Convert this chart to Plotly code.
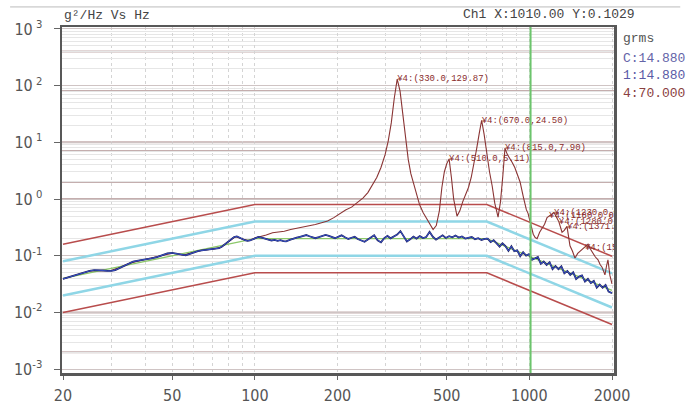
import plotly.graph_objects as go

# ---------------- data ----------------
# test profile breakpoints (Hz) and levels (g^2/Hz)
prof_f = [20, 100, 700, 2000]
ref_v = [0.04, 0.2, 0.2, 0.0245]
abort_hi = [0.16, 0.8, 0.8, 0.098]
abort_lo = [0.01, 0.05, 0.05, 0.006125]
alarm_hi = [0.08, 0.4, 0.4, 0.049]
alarm_lo = [0.02, 0.1, 0.1, 0.01225]

# channel 1 / control response
ch1_f = [20, 21, 22, 23, 24, 25, 26, 27, 28, 29, 30, 31, 32, 33, 34, 35, 36, 38, 40, 42, 44, 46, 48, 50,
         52, 54, 56, 58, 60, 62, 64, 66, 68, 70, 72, 74, 76, 78, 80, 82, 84, 86, 88, 90, 92, 94, 96, 98,
         100, 103, 106, 109, 112, 115, 118, 121, 124, 127, 130, 134, 138, 142, 146, 150, 154, 158, 162, 166,
         171, 176, 181, 186, 191, 196, 201, 207, 213, 219, 225, 231, 237, 244, 251, 258, 265, 272, 280, 288,
         296, 304, 312, 321, 330, 339, 348, 358, 368, 378, 388, 399, 410, 421, 433, 445, 457, 470, 483, 496,
         510, 524, 538, 553, 568, 584, 600, 617, 634, 651, 669, 687,
         705, 723, 741, 760, 779, 798, 818, 839, 860, 881, 903, 926, 949, 973, 997, 1022, 1048, 1074, 1101,
         1128, 1156, 1185, 1215, 1245, 1276, 1308, 1341, 1375, 1409, 1444, 1480, 1517, 1555, 1594, 1634,
         1675, 1717, 1760, 1804, 1849, 1895, 1943, 2000]
ch1_v = [0.039, 0.042, 0.045, 0.048, 0.052, 0.054, 0.056, 0.056, 0.055, 0.054, 0.054, 0.056, 0.060, 0.064,
         0.068, 0.074, 0.079, 0.083, 0.086, 0.090, 0.095, 0.102, 0.110, 0.112, 0.108, 0.103, 0.102, 0.108,
         0.116, 0.121, 0.124, 0.126, 0.127, 0.129, 0.131, 0.136, 0.146, 0.160, 0.176, 0.196, 0.214, 0.220,
         0.212, 0.198, 0.188, 0.183, 0.186, 0.194,
         0.203, 0.214, 0.208, 0.197, 0.192, 0.186, 0.190, 0.183, 0.188, 0.181, 0.179, 0.190, 0.201, 0.208,
         0.216, 0.224, 0.232, 0.221, 0.209, 0.204, 0.213, 0.222, 0.234, 0.224, 0.211, 0.204, 0.216, 0.229,
         0.212, 0.198, 0.208, 0.216, 0.197, 0.184, 0.176, 0.193, 0.215, 0.231, 0.188, 0.172, 0.205, 0.224,
         0.203, 0.219, 0.236, 0.272, 0.221, 0.178, 0.195, 0.218, 0.201, 0.222, 0.205, 0.214, 0.264, 0.216,
         0.193, 0.211, 0.229, 0.206, 0.221, 0.212, 0.228, 0.209, 0.219, 0.201, 0.207, 0.214, 0.196, 0.204,
         0.190, 0.199,
         0.201, 0.174, 0.189, 0.165, 0.145, 0.166, 0.148, 0.122, 0.147, 0.120, 0.125, 0.098, 0.116, 0.101,
         0.107, 0.085, 0.091, 0.095, 0.072, 0.079, 0.069, 0.077, 0.058, 0.066, 0.058, 0.065, 0.049, 0.054,
         0.046, 0.051, 0.039, 0.043, 0.045, 0.035, 0.039, 0.033, 0.036, 0.0275, 0.031, 0.0273, 0.0306,
         0.0234, 0.022]

# channel 4 response
ch4_f = [20, 25, 30, 35, 40, 45, 50, 55, 60, 65, 70, 75, 80, 85, 90, 95, 100, 105, 110, 116, 122, 128, 135,
         142, 150, 158, 166, 175, 184, 194, 204, 214, 225, 236, 248, 258, 268, 278, 288, 298, 306, 314, 322,
         330, 338, 346, 354, 362, 370, 378, 388, 398, 410, 422, 434, 446, 458, 470, 480, 490, 500, 510, 520,
         530, 545, 558, 572, 586, 600, 614, 628, 642, 656, 670, 684, 700, 716, 732, 748, 769, 785, 800, 815,
         830, 849, 866, 885, 905, 925, 950, 975, 989, 1010, 1033, 1050, 1067, 1090, 1113, 1136, 1160, 1180,
         1209, 1230, 1261, 1280, 1315, 1340, 1371, 1390, 1406, 1436, 1466, 1500, 1529, 1560, 1594, 1615,
         1636, 1670, 1706, 1740, 1779, 1810, 1840, 1865, 1885, 1910, 1933, 1965, 2000]
ch4_v = [0.039, 0.054, 0.055, 0.074, 0.087, 0.099, 0.111, 0.103, 0.117, 0.126, 0.130, 0.140, 0.175, 0.218,
         0.197, 0.186, 0.205, 0.215, 0.232, 0.255, 0.262, 0.270, 0.290, 0.305, 0.322, 0.334, 0.355, 0.382,
         0.410, 0.470, 0.560, 0.640, 0.720, 0.860, 1.05, 1.3, 1.75, 2.4, 3.6, 6.0, 10.5, 22, 60, 129.87, 80,
         32, 12, 5.0, 2.8, 1.9, 1.2, 0.80, 0.58, 0.45, 0.36, 0.29, 0.34, 0.62, 1.6, 3.0, 4.2, 5.11, 2.4, 1.0,
         0.50, 0.62, 0.9, 1.25, 1.6, 2.4, 4.0, 7.5, 14, 24.5, 14, 6.0, 3.0, 1.7, 0.85, 0.48, 0.9, 2.5, 7.9,
         6.2, 5.3, 4.4, 3.6, 2.7, 2.0, 1.1, 0.65, 0.56, 0.36, 0.24, 0.21, 0.20, 0.26, 0.30, 0.36, 0.47, 0.50,
         0.56, 0.58, 0.46, 0.40, 0.26, 0.28, 0.33, 0.22, 0.15, 0.12, 0.091, 0.11, 0.12, 0.13, 0.14, 0.15,
         0.16, 0.13, 0.11, 0.095, 0.085, 0.070, 0.063, 0.052, 0.046, 0.066, 0.085, 0.045, 0.032]

# marked peaks on channel 4
peak_f = [330.0, 510.0, 670.0, 815.0, 1230.0, 1180.0, 1280.0, 1371.0, 1594.0]
peak_v = [129.87, 5.11, 24.50, 7.90, 0.58, 0.50, 0.40, 0.33, 0.14]

# rms summary
grms_names = ["C", "1", "4"]
grms_vals = [14.880, 14.880, 70.000]
grms_colors = ["#6464a8", "#5a5aa6", "#8a4040"]

cursor_x = 1010.00
cursor_y = 0.1029

x_ticks = [20, 50, 100, 200, 500, 1000, 2000]
y_ticks = [1e-3, 1e-2, 1e-1, 1e0, 1e1, 1e2, 1e3]
y_ticktext = ["10<sup>-3</sup>", "10<sup>-2</sup>", "10<sup>-1</sup>", "10<sup> 0</sup>",
              "10<sup> 1</sup>", "10<sup> 2</sup>", "10<sup> 3</sup>"]

# ---------------- styling helpers ----------------
x_minor = [30, 40, 60, 70, 80, 90, 300, 400, 600, 700, 800, 900]
y_minor = [k * 10.0 ** e for e in range(-3, 3) for k in range(2, 10)]
brown_grid = [400, 80, 10, 7, 2, 1, 0.01, 0.002]

mono = "Liberation Mono, DejaVu Sans Mono, monospace"
tickfont = dict(family="Liberation Sans Narrow, DejaVu Sans Condensed, Liberation Sans, sans-serif",
                size=16, color="#555555")

fig = go.Figure()

for yv in brown_grid:
    fig.add_shape(type="line", xref="paper", x0=0, x1=1, yref="y", y0=yv, y1=yv,
                  line=dict(color="#c4aeae", width=2), layer="below")

line_common = dict(mode="lines", showlegend=False, hoverinfo="skip")
fig.add_trace(go.Scatter(x=prof_f, y=abort_hi, line=dict(color="#b84c4c", width=1.5), **line_common))
fig.add_trace(go.Scatter(x=prof_f, y=abort_lo, line=dict(color="#b84c4c", width=1.5), **line_common))
fig.add_trace(go.Scatter(x=prof_f, y=alarm_hi, line=dict(color="#8fd6e6", width=2.5), **line_common))
fig.add_trace(go.Scatter(x=prof_f, y=alarm_lo, line=dict(color="#8fd6e6", width=2.5), **line_common))
fig.add_trace(go.Scatter(x=ch4_f, y=ch4_v, line=dict(color="#8a3434", width=1.1), **line_common))
fig.add_trace(go.Scatter(x=prof_f, y=ref_v, line=dict(color="#8cc86a", width=1.3), **line_common))
fig.add_trace(go.Scatter(x=ch1_f, y=ch1_v, line=dict(color="#23235e", width=1.8), **line_common))
fig.add_trace(go.Scatter(x=ch1_f, y=ch1_v, line=dict(color="#3550c8", width=1.0), **line_common))

fig.add_vline(x=cursor_x, line=dict(color="#6cc46c", width=2))

fig.add_trace(go.Scatter(
    x=peak_f, y=peak_v, mode="text",
    text=["¥4:(%.1f,%.2f)" % (f, v) for f, v in zip(peak_f, peak_v)],
    textposition="middle right",
    textfont=dict(family=mono, size=9, color="#8a2c2c"),
    cliponaxis=True, showlegend=False, hoverinfo="skip"))

# titles / header
fig.add_annotation(text="g²/Hz Vs Hz", xref="paper", yref="paper", x=0.0, y=1.005,
                   xanchor="left", yanchor="bottom", showarrow=False,
                   font=dict(family=mono, size=13, color="#444444"))
fig.add_annotation(text="Ch1 X:%.2f Y:%.4f" % (cursor_x, cursor_y), xref="paper", yref="paper",
                   x=0.723, y=1.008, xanchor="left", yanchor="bottom", showarrow=False,
                   font=dict(family=mono, size=13, color="#444444"))
fig.add_annotation(text="grms", xref="paper", yref="paper", x=1.012, y=0.967,
                   xanchor="left", yanchor="middle", showarrow=False,
                   font=dict(family=mono, size=13, color="#555555"))
for i, (n, v, c) in enumerate(zip(grms_names, grms_vals, grms_colors)):
    fig.add_annotation(text="%s:%.3f" % (n, v), xref="paper", yref="paper", x=1.012,
                       y=0.909 - i * 0.0505, xanchor="left", yanchor="middle", showarrow=False,
                       font=dict(family=mono, size=13, color=c))

# top thin border
fig.add_shape(type="line", xref="paper", yref="paper", x0=-0.094, x1=1.12, y0=1.058, y1=1.058,
              line=dict(color="#bbbbbb", width=1))

fig.update_xaxes(type="log", range=[1.2974, 3.3083], tickvals=x_ticks,
                 ticktext=[str(t) for t in x_ticks], tickfont=tickfont,
                 ticks="outside", ticklen=4, tickcolor="#666666",
                 showgrid=True, gridcolor="#d4d4d4", griddash="dot", gridwidth=1,
                 minor=dict(tickvals=x_minor, showgrid=True, gridcolor="#d4d4d4",
                            griddash="dot", gridwidth=1, ticks=""),
                 showline=True, mirror=True, linecolor="#585858", linewidth=2.5,
                 zeroline=False, ticklabelstandoff=2)
fig.update_yaxes(type="log", range=[-3.067, 3.0335], tickvals=y_ticks, ticktext=y_ticktext,
                 tickfont=tickfont, ticks="outside", ticklen=6, tickcolor="#666666",
                 showgrid=True, gridcolor="#cfc4c4", gridwidth=1,
                 minor=dict(tickvals=y_minor, showgrid=True, gridcolor="#e6e6e6",
                            gridwidth=1, ticks=""),
                 showline=True, mirror=True, linecolor="#585858", linewidth=2.5,
                 zeroline=False, ticklabelstandoff=8)

fig.update_layout(width=688, height=417, margin=dict(l=62, r=74, t=27, b=26),
                  paper_bgcolor="white", plot_bgcolor="white", showlegend=False,
                  hovermode=False)

fig.write_html("out.html", config={"displayModeBar": False, "staticPlot": True},
               post_script="document.body.style.margin='0px';")
